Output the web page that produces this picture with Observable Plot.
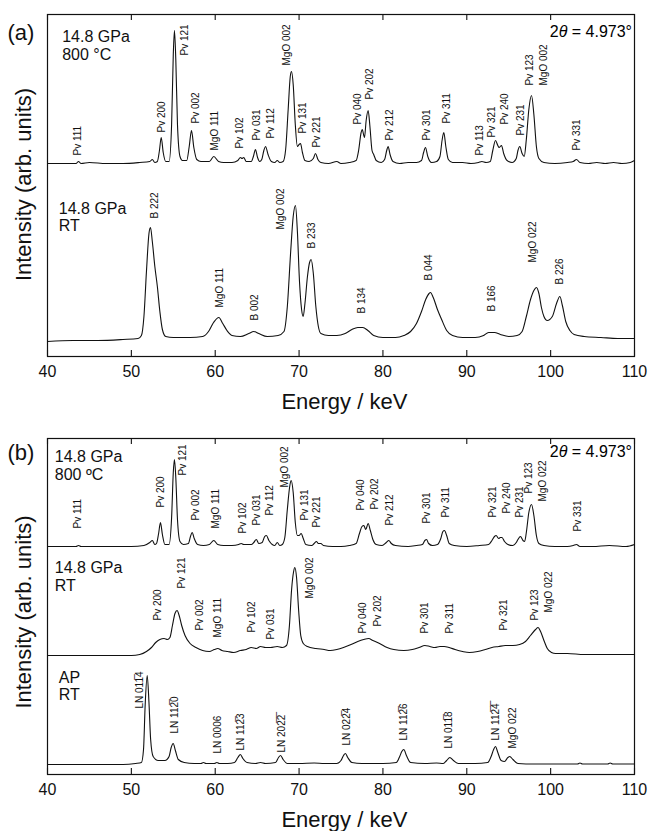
<!DOCTYPE html>
<html>
<head>
<meta charset="utf-8">
<script src="https://cdn.jsdelivr.net/npm/d3@7"></script>
<script src="https://cdn.jsdelivr.net/npm/@observablehq/plot@0.6"></script>
<style>
  html, body { margin: 0; padding: 0; background: #fff; }
  #wrap { position: relative; width: 649px; height: 831px; overflow: hidden; font-family: "Liberation Sans", Arial, Helvetica, sans-serif; }
  .pnl { position: absolute; left: 0; }
  .theta { position: absolute; right: 17px; font-size: 16px; line-height: 16px; color: #000; white-space: nowrap; }
</style>
</head>
<body>
<div id="wrap">
  <div id="pa" class="pnl" style="top:0px"></div>
  <div id="pb" class="pnl" style="top:415px"></div>
  <div class="theta" style="top:24px">2<i>θ</i> = 4.973°</div>
  <div class="theta" style="top:444px">2<i>θ</i> = 4.973°</div>
</div>
<script>
// ---------- data (Energy keV, intensity arb. units) ----------
const xTicks = [40, 50, 60, 70, 80, 90, 100, 110];

// panel (a), 14.8 GPa 800 °C
const a800 = [[40,1],[42,1],[43.4,1],[43.7,3],[44.0,1],[45,2],[47,1],[49,1],[51,2],[52.2,3],[52.5,5],[52.8,2],
 [53.1,3],[53.35,14],[53.56,27],[53.8,12],[54.1,3],
 [54.5,3],[54.8,40],[55.0,110],[55.14,134],[55.3,105],[55.5,40],[55.8,8],[56.1,4],
 [56.6,4],[56.9,18],[57.17,34],[57.45,17],[57.8,5],[58.3,3],
 [59.3,3],[59.83,8],[60.4,3],[61,2],[62,2],
 [62.7,4],[63.0,7],[63.2,6],[63.4,7],[63.7,3],
 [64.3,3],[64.55,8],[64.8,15],[65.05,7],[65.3,3],
 [65.55,5],[65.8,14],[66.0,18],[66.3,10],[66.7,3],[67.1,2],[67.4,4],[67.7,2],[68.1,3],
 [68.4,15],[68.7,55],[68.95,88],[69.1,93],[69.3,80],[69.55,40],[69.8,18],
 [70.0,20],[70.17,21],[70.4,12],[70.7,4],[71.2,3],
 [71.7,6],[71.96,11],[72.25,5],[72.6,2],[73.5,1],[74.5,3],[75,1],[76,2],[76.8,4],
 [77.1,14],[77.4,32],[77.53,35],[77.8,27],[78.0,44],[78.24,54],[78.45,38],[78.7,14],[78.9,10],[79.2,4],[79.8,2],
 [80.2,5],[80.45,14],[80.62,18],[80.85,10],[81.2,3],[82,1],[83,2],[84,2],
 [84.6,4],[84.85,12],[85.07,17],[85.35,8],[85.8,2],[86.4,3],
 [86.8,8],[87.05,24],[87.26,32],[87.5,18],[87.8,5],[88.3,2],[89.5,2],[90.5,1],[91.4,2],
 [91.8,3],[92.3,2],[92.8,3],
 [93.1,14],[93.42,24],[93.7,19],[93.85,17],[94.14,19],[94.4,11],[94.8,4],[95.4,2],[95.9,6],
 [96.1,14],[96.32,18],[96.6,11],[96.85,8],
 [97.1,25],[97.4,55],[97.72,69],[98.0,50],[98.3,18],[98.6,6],[99.2,2],[100.5,1],[102,2],[102.7,3],
 [103.08,5],[103.5,2],[104.5,1],[105.5,2],[106.5,1],[107.5,2],[108.5,1],[109.5,2],[110,4]];

// panel (a), 14.8 GPa RT
const aRT = [[40,0],[43,1],[46,1],[49,2],[50.8,3],[51.2,6],[51.5,25],[51.8,70],[52.1,108],[52.28,114],[52.5,100],[52.8,75],[53.1,55],[53.4,30],[53.7,12],[54.1,5],
 [55,4],[57,4],[58.5,5],[59.2,10],[59.8,19],[60.43,24],[60.9,18],[61.4,11],[62,6],[63,5],[64,8],[64.6,10],[65.2,8],[66.2,5],[67.5,6],
 [68.2,10],[68.6,35],[69.0,90],[69.3,125],[69.57,136],[69.8,110],[70.05,60],[70.3,32],[70.49,25],[70.7,38],[71.0,65],[71.25,79],[71.44,82],[71.7,68],[72.0,35],[72.3,15],[72.6,8],
 [73.5,6],[74.5,6],[75.5,8],[76.3,12],[77.0,14],[77.6,14],[78.2,11],[78.9,6],[80,4],[81.5,4],[82.5,6],[83.3,10],[84,18],[84.6,30],[85.1,42],[85.5,48],[85.67,49],[86.0,44],[86.5,32],[87.0,22],[87.6,11],[88.3,6],
 [89.5,4],[91,4],[92,6],[92.6,9],[93.3,9],[94,7],[95,5],[96,6],[96.6,10],[97.1,25],[97.6,42],[98.0,51],[98.31,54],[98.6,48],[98.9,34],[99.2,25],[99.6,21],
 [100.2,25],[100.7,38],[101.1,45],[101.4,36],[101.8,20],[102.3,11],[102.8,7],[104,5],[106,4],[108,3],[110,3]];

// panel (b), 14.8 GPa 800 ºC
const b800 = [[40,1],[42,1],[43.4,1],[43.7,2],[44,1],[46,1],[48,1],[50,1],[51.5,2],[52.2,5],[52.5,7],[52.8,3],
 [53.0,4],[53.25,14],[53.47,25],[53.7,13],[54.0,3],
 [54.5,3],[54.8,30],[55.0,75],[55.14,88],[55.3,70],[55.5,28],[55.8,6],[56.2,3],
 [56.8,4],[57.05,11],[57.25,15],[57.5,9],[57.9,3],[58.6,2],
 [59.3,3],[59.83,7],[60.3,3],[61,2],[62,2],[62.8,3],[63.1,4],[63.4,3],[64.3,3],
 [64.6,5],[64.9,8],[65.2,4],[65.6,5],
 [65.9,11],[66.1,12],[66.4,7],[66.8,3],[67.1,2],[67.4,5],[67.7,2],[68.0,3],
 [68.3,10],[68.6,38],[68.9,62],[69.06,67],[69.3,55],[69.55,25],[69.8,12],[70.0,12],[70.25,14],[70.5,9],[70.8,3],[71.5,2],[71.8,4],[72.07,6],[72.3,4],[72.6,4],[72.9,2],[74,1],[75,1],[76,2],[76.8,4],
 [77.2,14],[77.5,21],[77.72,22],[77.95,18],[78.24,24],[78.5,17],[78.8,8],[79.2,3],[79.9,2],
 [80.4,5],[80.7,7],[81.0,4],[81.5,2],[83,1],[84,2],
 [84.7,3],[85.0,7],[85.2,8],[85.45,4],[85.9,2],[86.5,3],
 [86.9,9],[87.15,16],[87.34,17],[87.6,12],[87.9,4],[88.5,2],[90,1],[91.5,2],[92.6,3],
 [93.0,7],[93.3,11],[93.5,12],[93.8,9],[94.0,10],[94.2,10],[94.5,6],[94.9,3],[95.5,2],[95.9,5],
 [96.1,8],[96.4,11],[96.7,7],[96.9,6],
 [97.1,15],[97.4,35],[97.72,43],[98.0,32],[98.3,12],[98.6,4],[99.2,2],[100.5,1],[102,1],[102.7,2],[103.08,3],[103.5,1],[105,1],[107,2],[109,1],[110,3]];

// panel (b), 14.8 GPa RT
const bRT = [[40,0],[45,0],[50,0],[51.0,1],[51.8,4],[52.4,8],[52.9,13],[53.4,16],[53.9,17],[54.3,16],[54.6,18],[54.9,30],[55.2,42],[55.45,45],[55.7,40],[56.0,30],[56.4,20],
 [57,12],[57.7,8],[58.5,5],[59.3,4],[59.9,6],[60.3,7],[60.8,5],[61.5,4],[62.2,3],[63,5],[63.7,6],[64.3,8],[64.9,7],[65.4,9],[66.0,8],[66.6,8],[67.4,9],[68.0,8],
 [68.5,10],[68.85,30],[69.1,65],[69.35,84],[69.5,88],[69.7,78],[69.95,45],[70.2,20],[70.5,12],[71,9],[72,7],[73,6],[73.7,5],
 [74.5,6],[75.3,8],[76.2,11],[77.0,14],[77.7,16],[78.3,17],[78.8,15],[79.6,12],[80.5,8],[81.3,6],[82.5,5],[83.5,6],[84.3,8],[85.0,10],[85.6,9],[86.2,8],[86.8,9],[87.3,9],[87.9,8],[88.6,6],
 [89.5,4],[90.3,3],[91.3,4],[92.2,6],[93,8],[93.8,9],[94.6,10],[95.5,10],[96.3,11],[97.0,14],[97.6,20],[98.2,26],[98.5,28],[98.8,24],[99.2,15],[99.6,7],[100.1,3],[100.6,2],[102,2],[104,1],[106,1],[108,1],[110,1]];

// panel (b), AP RT
const bAP = [[40,0],[45,0],[49,0],[50.5,1],[51.2,2],[51.45,15],[51.65,60],[51.89,89],[52.1,62],[52.3,25],[52.6,8],[53.2,4],[54.0,4],
 [54.5,8],[54.75,17],[54.99,21],[55.25,14],[55.6,5],[56.3,2],[57.5,1],[58.3,1],[58.6,2],[58.9,1],[59.9,1],[60.2,2],[60.5,1],[61.5,1],
 [62.3,2],[62.7,7],[63.0,10],[63.3,6],[63.8,2],[64.8,1],[65.4,2],[66,1],[67.2,2],[67.55,7],[67.8,9],[68.1,5],[68.6,1],[70,1],[71.8,1.5],[73,1],[74.5,1],
 [75.0,4],[75.3,9],[75.53,11],[75.8,7],[76.3,2],[77.5,1],[80,1],[81.6,2],[82.0,8],[82.25,13],[82.49,15],[82.8,9],[83.3,2],[85,1],[86.4,1.5],[87.2,1],
 [87.6,4],[87.98,7],[88.4,4],[89,1],[91,1],[92.5,2],[92.9,8],[93.2,15],[93.42,18],[93.7,12],[94.1,4],[94.5,3],[94.9,7],[95.13,8],[95.5,5],[96.1,1],
 [98,0.5],[100,0.5],[103.2,0.5],[103.5,1.5],[103.8,0.5],[106.8,0.5],[107.1,1.5],[107.4,0.5],[110,0.5]];

// peak labels: [text, energy, level above the curve baseline]
const a800Labels = [["Pv 111",43.61,9],["Pv 200",53.68,32],["Pv 121",56.34,109],["Pv 002",57.65,41],["MgO 111",59.91,14],
 ["Pv 102",62.93,16],["Pv 031",64.92,24],["Pv 112",66.68,26],["MgO 002",68.5,99],["Pv 131",70.49,31],["Pv 221",72.16,17],
 ["Pv 040",77.0,40],["Pv 202",78.43,65],["Pv 212",80.82,24],["Pv 301",85.19,24],["Pv 311",87.58,41],["Pv 113",91.55,9],
 ["Pv 321",93.03,27],["Pv 240",94.53,40],["Pv 231",96.4,29],["Pv 123",97.51,79],["MgO 002",99.18,79],["Pv 331",103.08,14]];
const aRTLabels = [["B 222",52.76,123],["MgO 111",60.55,34],["B 002",64.68,21],["MgO 002",67.87,112],["B 233",71.56,93],
 ["B 134",77.53,28],["B 044",85.47,61],["B 166",93.03,30],["MgO 022",97.92,79],["B 226",101.09,57]];
const b800Labels = [["Pv 111",43.61,19],["Pv 200",53.47,40],["Pv 121",56.18,72],["Pv 002",57.65,27],["MgO 111",60.03,19],
 ["Pv 102",63.34,14],["Pv 031",65.0,22],["Pv 112",66.51,32],["MgO 002",68.26,60],["Pv 131",70.65,27],["Pv 221",72.16,20],
 ["Pv 040",77.41,37],["Pv 202",78.99,38],["Pv 212",80.82,22],["Pv 301",85.19,24],["Pv 311",87.46,30],
 ["Pv 321",93.15,30],["Pv 240",94.73,34],["Pv 231",96.32,30],["Pv 123",97.39,54],["MgO 022",99.11,46],["Pv 331",103.24,16]];
const bRTLabels = [["Pv 200",53.15,35],["Pv 121",56.04,67],["Pv 002",58.2,25],["MgO 111",60.36,18],["Pv 102",64.39,23],
 ["Pv 031",66.59,16],["MgO 002",71.27,57],["Pv 040",77.6,22],["Pv 202",79.43,29],["Pv 301",85.03,22],["Pv 311",88.01,22],
 ["Pv 321",94.44,25],["Pv 123",98.1,35],["MgO 022",99.8,43]];
const bAPLabels = [["LN 011\u03054",51.01,56],["LN 112\u03050",55.14,31],["LN 0006",60.31,11],["LN 112\u03053",63.1,14],
 ["LN 202\u03052\u0305",67.9,12],["LN 022\u03054",75.74,19],["LN 112\u03056",82.49,24],["LN 011\u03058",87.85,16],
 ["LN 112\u03054\u0305",93.42,24],["MgO 022",95.53,16]];

// sample names
const aSamples = ["14.8 GPa\n800 °C", "14.8 GPa\nRT"];
const bSamples = ["14.8 GPa\n800 ºC", "14.8 GPa\nRT", "AP\nRT"];

// ---------- drawing ----------
const FONT = "Liberation Sans, Arial, Helvetica, sans-serif";

function panel(cfg) {
  const {height, marginTop, marginBottom, yMax, series, letter, letterY, titleY} = cfg;
  const marks = [
    Plot.frame({stroke: "#111", strokeWidth: 1.2}),
    Plot.ruleX(xTicks, {x: d => d, y1: 0, y2: 6, stroke: "#111", strokeWidth: 1.1}),
    Plot.ruleX(xTicks, {x: d => d, y1: yMax - 6, y2: yMax, stroke: "#111", strokeWidth: 1.1}),
    Plot.axisX({ticks: xTicks, tickSize: 0, tickPadding: 9, fontSize: 16, label: null, tickFormat: d => String(d)}),
    Plot.text(["Energy / keV"], {x: 75.4, y: -45, text: d => d, fontSize: 22, lineAnchor: "middle", textAnchor: "middle", fill: "#111"}),
    Plot.text(["Intensity (arb. units)"], {x: 37.14, y: titleY, text: d => d, fontSize: 22, rotate: -90, textAnchor: "middle", lineAnchor: "middle", fill: "#111"}),
    Plot.text([letter], {x: 35.23, y: letterY, text: d => d, fontSize: 22, textAnchor: "start", lineAnchor: "middle", fill: "#111"})
  ];
  for (const s of series) {
    const pts = s.data.map(([e, h]) => ({e, y: s.offset + h}));
    marks.push(Plot.line(pts, {x: "e", y: "y", stroke: "#111", strokeWidth: 1.1, curve: "monotone-x"}));
    const labs = s.labels.map(([t, e, lv]) => ({t, e, y: s.offset + lv}));
    marks.push(Plot.text(labs, {x: "e", y: "y", text: "t", rotate: -90, textAnchor: "start", lineAnchor: "middle", fontSize: 10, fill: "#111"}));
    marks.push(Plot.text([s.name], {x: s.nameX, y: s.nameY, text: d => d, fontSize: 16, textAnchor: "start", lineAnchor: "middle", lineHeight: s.nameLH, fill: "#111"}));
  }
  return Plot.plot({
    width: 649, height, marginLeft: 47, marginRight: 15, marginTop, marginBottom,
    x: {domain: [40, 110], axis: null},
    y: {domain: [0, yMax], axis: null},
    style: {fontFamily: FONT, background: "white", color: "#111", overflow: "visible"},
    marks
  });
}

document.getElementById("pa").appendChild(panel({
  height: 415, marginTop: 14, marginBottom: 59, yMax: 342, letter: "(a)", letterY: 324, titleY: 172,
  series: [
    {data: a800, offset: 192, labels: a800Labels, name: aSamples[0], nameX: 41.75, nameY: 311.3, nameLH: 1.125},
    {data: aRT, offset: 15, labels: aRTLabels, name: aSamples[1], nameX: 41.35, nameY: 139.8, nameLH: 1.1}
  ]
}));

document.getElementById("pb").appendChild(panel({
  height: 416, marginTop: 23, marginBottom: 57, yMax: 336, letter: "(b)", letterY: 322, titleY: 162.5,
  series: [
    {data: b800, offset: 227, labels: b800Labels, name: bSamples[0], nameX: 40.87, nameY: 309.7, nameLH: 1.125},
    {data: bRT, offset: 119, labels: bRTLabels, name: bSamples[1], nameX: 40.87, nameY: 198, nameLH: 1.125},
    {data: bAP, offset: 10, labels: bAPLabels, name: bSamples[2], nameX: 41.35, nameY: 88.2, nameLH: 1.04}
  ]
}));
</script>
</body>
</html>
